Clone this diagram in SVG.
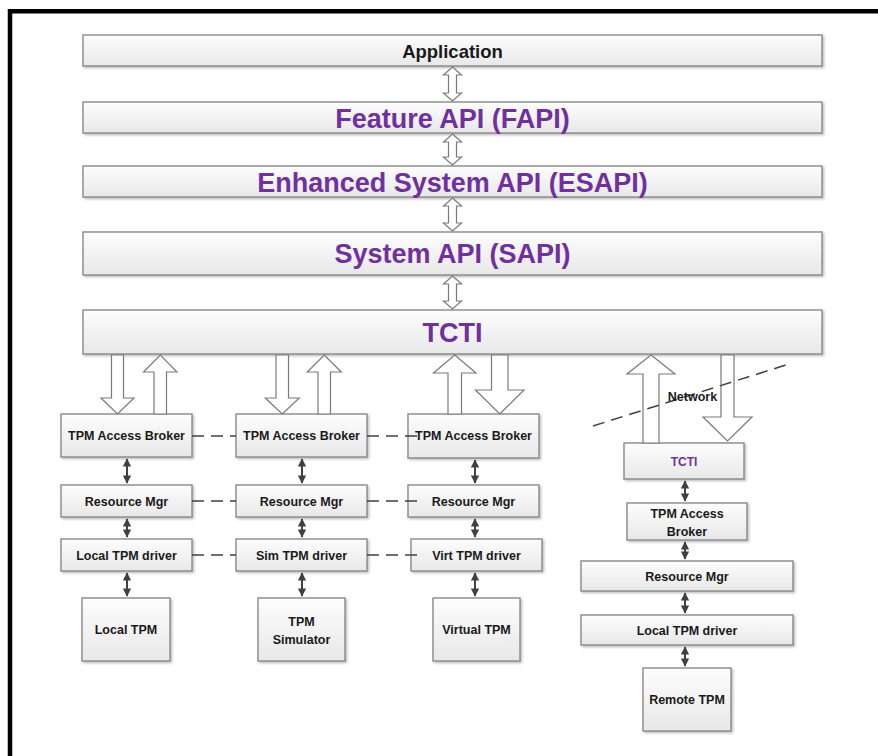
<svg xmlns="http://www.w3.org/2000/svg" width="878" height="756" viewBox="0 0 878 756">
<defs>
<linearGradient id="g" x1="0" y1="0" x2="0" y2="1">
<stop offset="0" stop-color="#fdfdfd"/>
<stop offset="1" stop-color="#e8e8e8"/>
</linearGradient>
<filter id="sh" x="-5%" y="-10%" width="112%" height="130%">
<feDropShadow dx="1.5" dy="1.5" stdDeviation="0.8" flood-color="#8a8a8a" flood-opacity="0.55"/>
</filter>
<marker id="ah" viewBox="0 0 10 10" refX="9" refY="5" markerWidth="4.2" markerHeight="4.2" orient="auto-start-reverse" markerUnits="strokeWidth">
<path d="M0,0 L10,5 L0,10 z" fill="#404040"/>
</marker>
<style>
.box{fill:url(#g);stroke:#8a8a8a;stroke-width:1.4;filter:url(#sh)}
.t{font-family:"Liberation Sans",Arial,sans-serif;font-weight:bold;fill:#1a1a1a;text-anchor:middle}
.big{font-size:27px;fill:#7030a0}
.sm{font-size:12.5px}
.hol{fill:#ffffff;stroke:#7a7a7a;stroke-width:1.2;stroke-linejoin:miter}
.sa{stroke:#404040;stroke-width:2;fill:none;marker-start:url(#ah);marker-end:url(#ah)}
.dash{stroke:#404040;stroke-width:1.5;stroke-dasharray:12 7;fill:none}
</style>
</defs>
<rect width="878" height="756" fill="#ffffff"/>
<path d="M10,756 V11.2 H878" fill="none" stroke="#000" stroke-width="4.5"/>

<g id="application"><rect class="box" x="83" y="35" width="739" height="31"/><text class="t" x="452.5" y="57.5" font-size="18.5">Application</text></g>
<g id="fapi"><rect class="box" x="83" y="102" width="739" height="31"/><text class="t big" x="452.5" y="127.5">Feature API (FAPI)</text></g>
<g id="esapi"><rect class="box" x="83" y="166" width="739" height="31"/><text class="t big" x="452.5" y="191.5">Enhanced System API (ESAPI)</text></g>
<g id="sapi"><rect class="box" x="83" y="232" width="739" height="43"/><text class="t big" x="452.5" y="263">System API (SAPI)</text></g>
<g id="tcti"><rect class="box" x="83" y="310" width="739" height="44"/><text class="t big" x="452.5" y="342" font-size="28">TCTI</text></g>

<g id="broker1"><rect class="box" x="61" y="414" width="131" height="43"/><text class="t sm" x="126.5" y="440">TPM Access Broker</text></g>
<g id="broker2"><rect class="box" x="236" y="414" width="131" height="43"/><text class="t sm" x="301.5" y="440">TPM Access Broker</text></g>
<g id="broker3"><rect class="box" x="408" y="414" width="131" height="44"/><text class="t sm" x="473.5" y="440">TPM Access Broker</text></g>
<g id="rm1"><rect class="box" x="61" y="485" width="131" height="32"/><text class="t sm" x="126.5" y="505.5">Resource Mgr</text></g>
<g id="rm2"><rect class="box" x="236" y="485" width="131" height="32"/><text class="t sm" x="301.5" y="505.5">Resource Mgr</text></g>
<g id="rm3"><rect class="box" x="408" y="485" width="131" height="32"/><text class="t sm" x="473.5" y="505.5">Resource Mgr</text></g>
<g id="drv1"><rect class="box" x="61" y="539" width="131" height="32"/><text class="t sm" x="126.5" y="559.5">Local TPM driver</text></g>
<g id="drv2"><rect class="box" x="236" y="539" width="131" height="32"/><text class="t sm" x="301.5" y="559.5">Sim TPM driver</text></g>
<g id="drv3"><rect class="box" x="411" y="539" width="131" height="32"/><text class="t sm" x="476.5" y="559.5">Virt TPM driver</text></g>
<g id="localtpm"><rect class="box" x="82" y="598" width="88" height="63"/><text class="t sm" x="126" y="634">Local TPM</text></g>
<g id="simtpm"><rect class="box" x="258" y="598" width="87" height="63"/><text class="t sm" x="301.5" y="626">TPM</text><text class="t sm" x="301.5" y="644">Simulator</text></g>
<g id="virttpm"><rect class="box" x="433" y="598" width="87" height="63"/><text class="t sm" x="476.5" y="634">Virtual TPM</text></g>

<g id="tcti2"><rect class="box" x="624" y="443" width="120" height="36"/><text class="t" x="684" y="465.5" font-size="12" fill="#7030a0" style="fill:#7030a0">TCTI</text></g>
<g id="broker4"><rect class="box" x="627" y="503" width="120" height="37"/><text class="t sm" x="687" y="517.5">TPM Access</text><text class="t sm" x="687" y="536">Broker</text></g>
<g id="rm4"><rect class="box" x="581" y="561" width="212" height="30"/><text class="t sm" x="687" y="580.5">Resource Mgr</text></g>
<g id="drv4"><rect class="box" x="581" y="615" width="212" height="30"/><text class="t sm" x="687" y="634.5">Local TPM driver</text></g>
<g id="remotetpm"><rect class="box" x="643" y="668" width="88" height="63"/><text class="t sm" x="687" y="704">Remote TPM</text></g>

<g id="connectors">
<polygon class="hol" points="452.5,67 461.5,75 456.5,75 456.5,93 461.5,93 452.5,101 443.5,93 448.5,93 448.5,75 443.5,75"/>
<polygon class="hol" points="452.5,134 461.5,142 456.5,142 456.5,157 461.5,157 452.5,165 443.5,157 448.5,157 448.5,142 443.5,142"/>
<polygon class="hol" points="452.5,198 461.5,206 456.5,206 456.5,223 461.5,223 452.5,231 443.5,223 448.5,223 448.5,206 443.5,206"/>
<polygon class="hol" points="452.5,276 461.5,284 456.5,284 456.5,301 461.5,301 452.5,309 443.5,301 448.5,301 448.5,284 443.5,284"/>

<polygon class="hol" points="111.5,355 123.5,355 123.5,398 134,398 117.5,414 101,398 111.5,398"/>
<polygon class="hol" points="154,414 166.5,414 166.5,372 177,372 160.25,355 143.5,372 154,372"/>
<polygon class="hol" points="276,355 288.5,355 288.5,398 299.25,398 282.25,414 265.25,398 276,398"/>
<polygon class="hol" points="318,414 330.5,414 330.5,372 341.25,372 324.25,355 307.25,372 318,372"/>
<polygon class="hol" points="448,414 461.5,414 461.5,373 476,373 454.75,355 433.5,373 448,373"/>
<polygon class="hol" points="491.5,355 508,355 508,390 524,390 499.75,414 475.5,390 491.5,390"/>
<polygon class="hol" points="643,443 659,443 659,374 675,374 651,355 627,374 643,374"/>
<polygon class="hol" points="721,355 734,355 734,417 752,417 727.5,441 703,417 721,417"/>

<line class="dash" x1="593" y1="426" x2="789" y2="364"/>
<text class="t sm" x="692.5" y="400.5">Network</text>

<line class="dash" x1="192" y1="436" x2="236" y2="436"/>
<line class="dash" x1="367" y1="436" x2="417" y2="436"/>
<line class="dash" x1="192" y1="501" x2="236" y2="501"/>
<line class="dash" x1="367" y1="501" x2="421" y2="501"/>
<line class="dash" x1="192" y1="555" x2="236" y2="555"/>
<line class="dash" x1="367" y1="555" x2="422" y2="555"/>

<line class="sa" x1="127" y1="459" x2="127" y2="483"/>
<line class="sa" x1="127" y1="519" x2="127" y2="537"/>
<line class="sa" x1="127" y1="573" x2="127" y2="596"/>
<line class="sa" x1="302" y1="459" x2="302" y2="483"/>
<line class="sa" x1="302" y1="519" x2="302" y2="537"/>
<line class="sa" x1="302" y1="573" x2="302" y2="596"/>
<line class="sa" x1="475" y1="460" x2="475" y2="483"/>
<line class="sa" x1="475" y1="519" x2="475" y2="537"/>
<line class="sa" x1="475" y1="573" x2="475" y2="596"/>
<line class="sa" x1="685" y1="481" x2="685" y2="501"/>
<line class="sa" x1="685" y1="542" x2="685" y2="559"/>
<line class="sa" x1="685" y1="593" x2="685" y2="613"/>
<line class="sa" x1="685" y1="647" x2="685" y2="666"/>
</g>
</svg>
